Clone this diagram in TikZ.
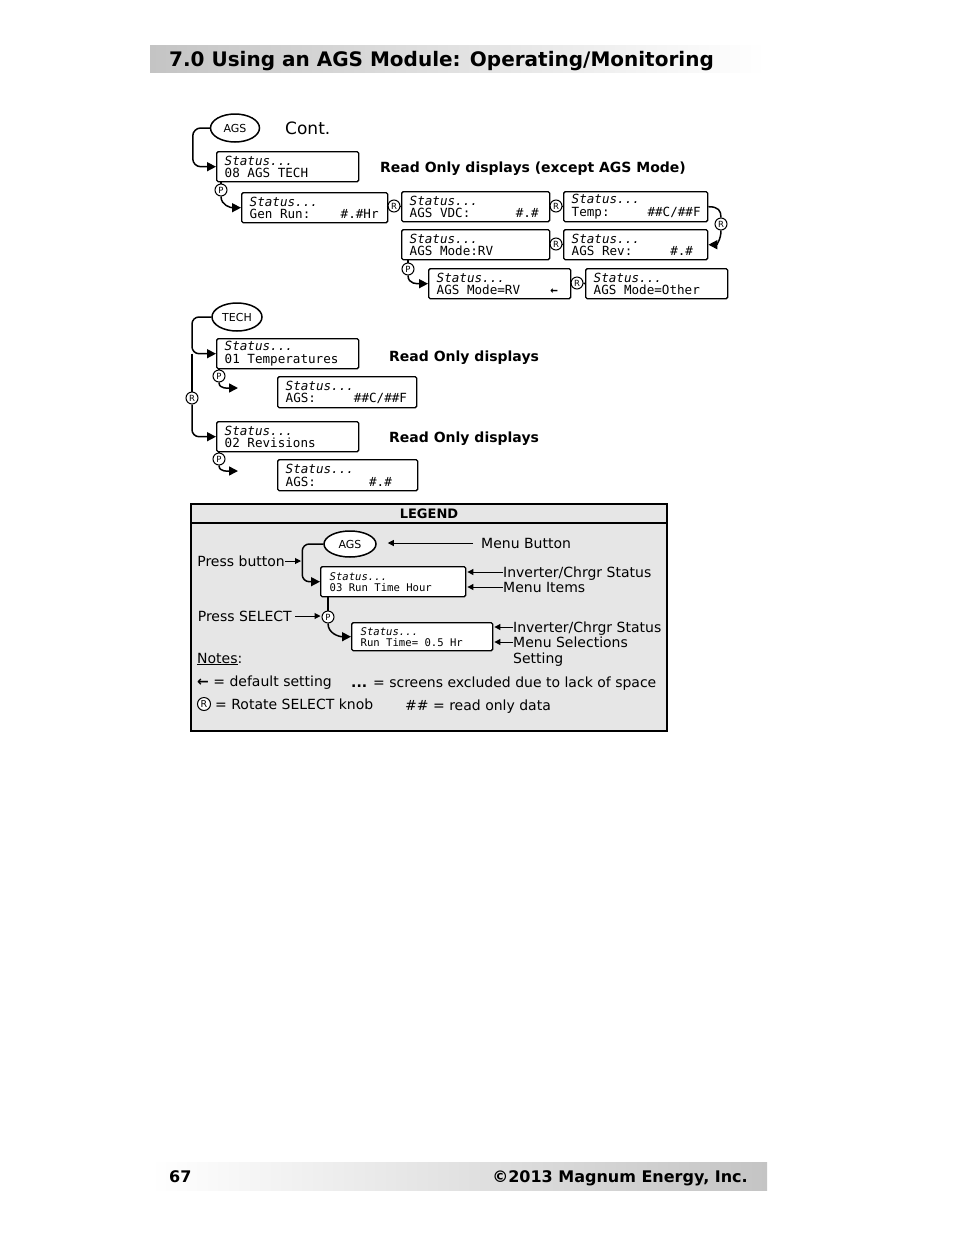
\documentclass[tikz,border=0pt]{standalone}
\usepackage{fontspec}
\setmainfont{DejaVu Sans}
\setmonofont{DejaVu Sans Mono}
\usetikzlibrary{shapes.geometric,arrows.meta}
\definecolor{legendgray}{HTML}{E6E6E6}
\definecolor{bargray}{HTML}{C4C4C4}
\newcommand\xs{\hspace*{0.6021em}}
\newcommand\mydisp[7]{%
  \node[disp, minimum width=#4pt, minimum height=#5pt, text width=\dimexpr#4pt-16pt\relax] (#1) at (#2,#3) {\textit{#6}\\#7};}
\newcommand\mysmalldisp[7]{%
  \node[disp, font=\ttfamily\fontsize{10.6}{11}\selectfont, minimum width=#4pt, minimum height=#5pt, text width=\dimexpr#4pt-18pt\relax, inner xsep=9pt] (#1) at (#2,#3) {\textit{#6}\\#7};}
\begin{document}
\begin{tikzpicture}[x=1pt,y=-1pt,
  disp/.style={draw, line width=1.4pt, rounded corners=1.5pt, fill=white, align=left,
    inner xsep=8pt, inner ysep=0pt, anchor=north west,
    font=\ttfamily\fontsize{12.6}{12.5}\selectfont},
  agsell/.style={ellipse, draw, line width=1.5pt, fill=white, inner sep=0pt,
    minimum width=49pt, minimum height=28pt, font=\fontsize{11}{11}\selectfont},
  rp/.style={circle, draw, line width=1pt, fill=white, inner sep=0pt, minimum size=12pt,
    font=\fontsize{8.5}{8.5}\selectfont},
  conn/.style={line width=1.5pt},
  arr/.style={conn, -{Triangle[length=9pt,width=9pt]}},
  larr/.style={line width=1pt, -{Triangle[length=6pt,width=6pt]}},
  lbl/.style={inner sep=0pt, anchor=base west, font=\fontsize{14}{16}\selectfont},
  rohead/.style={inner sep=0pt, anchor=base west, font=\bfseries\fontsize{14}{16}\selectfont}
]
\useasboundingbox (0,0) rectangle (954,1235);
\fill[white] (0,0) rectangle (954,1235);

% header bar
\shade[left color=bargray, right color=white] (150,45) rectangle (766,72);
\node[anchor=base west, inner sep=0pt, font=\bfseries\fontsize{20}{22}\selectfont] (title) at (169,66.5) {7.0 Using an AGS Module: Operating/Monitoring};

% footer bar
\shade[left color=white, right color=bargray] (150,1162) rectangle (767,1190);
\node[anchor=base west, inner sep=0pt, font=\bfseries\fontsize{16}{18}\selectfont] (pg) at (169,1182) {67};
\node[anchor=base east, inner sep=0pt, font=\bfseries\fontsize{16}{18}\selectfont] (copy) at (748,1182) {©2013 Magnum Energy, Inc.};

% ---------------- top section ----------------
\node[agsell] (ags1) at (235,128) {AGS};
\node[anchor=base west, inner sep=0pt, font=\fontsize{17}{17}\selectfont] (cont) at (285,134) {Cont.};
\mydisp{box1}{216}{151}{142}{30}{Status...}{08\xs AGS\xs TECH}
\draw[arr, rounded corners=8pt] (ags1.west) -- ++(-17,0) |- (box1.west);
\node[rohead] (ro1) at (380,172) {Read Only displays (except AGS Mode)};

\mydisp{gen}{241}{192}{146}{30}{Status...}{Gen\xs Run:\xs\xs\xs\xs\#.\#Hr}
\mydisp{vdc}{401}{191}{148}{30}{Status...}{AGS\xs VDC:\xs\xs\xs\xs\xs\xs\#.\#}
\mydisp{temp}{563}{191}{144}{30}{Status...}{Temp:\xs\xs\xs\xs\xs\#\#C/\#\#F}
\mydisp{mode}{401}{229}{148}{30}{Status...}{AGS\xs Mode:RV}
\mydisp{rev}{563}{229}{144}{30}{Status...}{AGS\xs Rev:\xs\xs\xs\xs\xs\#.\#}
\mydisp{moderv}{428}{268}{142}{30}{Status...}{AGS\xs Mode=RV\xs\xs\xs\xs\textbf{←}}
\mydisp{other}{585}{268}{142}{30}{Status...}{AGS\xs Mode=Other}

\node[rp] (p1) at (221,190) {P};
\draw[conn] (p1 |- box1.south) -- (p1.north);
\draw[arr] (p1.south) .. controls +(0,9) and +(-10,0) .. (gen.west);

\node[rp] (r1) at (394,206) {R};
\draw[conn] (gen.east) -- (r1.west);
\draw[conn] (r1.east) -- (vdc.west);
\node[rp] (r2) at (556,206) {R};
\draw[conn] (vdc.east) -- (r2.west);
\draw[conn] (r2.east) -- (temp.west);

\node[rp] (r3) at (721,224) {R};
\draw[conn] (temp.east) .. controls +(10,0) and +(0,-7) .. (r3.north);
\draw[arr] (r3.south) .. controls +(0,9) and +(8,0) .. (rev.east);

\node[rp] (r5) at (556,244) {R};
\draw[conn] (mode.east) -- (r5.west);
\draw[conn] (r5.east) -- (rev.west);

\node[rp] (p2) at (408,269) {P};
\draw[conn] (p2 |- mode.south) -- (p2.north);
\draw[arr] (p2.south) .. controls +(0,9) and +(-10,0) .. (moderv.west);

\node[rp] (r4) at (577,283) {R};
\draw[conn] (moderv.east) -- (r4.west);
\draw[conn] (r4.east) -- (other.west);

% ---------------- TECH section ----------------
\node[agsell, minimum width=50pt] (tech) at (237,317) {TECH};
\mydisp{t1}{216}{338}{142}{30}{Status...}{01\xs Temperatures}
\mydisp{ta}{277}{376}{139}{31}{Status...}{AGS:\xs\xs\xs\xs\xs\#\#C/\#\#F}
\mydisp{t2}{216}{421}{142}{30}{Status...}{02\xs Revisions}
\mydisp{tb}{277}{459}{140}{31}{Status...}{AGS:\xs\xs\xs\xs\xs\xs\xs\#.\#}
\node[rohead] (ro2) at (389,361) {Read Only displays};
\node[rohead] (ro3) at (389,442) {Read Only displays};

\node[rp] (rr) at (192,398) {R};
\coordinate (tv) at (rr |- tech.west);
\draw[arr, rounded corners=7pt] (tech.west) -- (tv) |- (t1.west);
\draw[conn] (tv |- t1.west) -- (rr.north);
\draw[arr, rounded corners=7pt] (rr.south) |- (t2.west);

\node[rp] (pt1) at (219,376) {P};
\coordinate (e1) at (238,388);
\draw[conn] (pt1 |- t1.south) -- (pt1.north);
\draw[arr] (pt1.south) .. controls +(0,7) and +(-9,0) .. (e1);

\node[rp] (pt2) at (219,459) {P};
\coordinate (e2) at (238,471);
\draw[conn] (pt2 |- t2.south) -- (pt2.north);
\draw[arr] (pt2.south) .. controls +(0,7) and +(-9,0) .. (e2);

% ---------------- legend ----------------
\draw[line width=1.5pt, fill=legendgray] (191,504) rectangle (667,731);
\draw[line width=1.5pt] (191,523) -- (667,523);
\node[inner sep=0pt, anchor=base, font=\bfseries\fontsize{13}{14}\selectfont] (lt) at (429,518) {LEGEND};

\node[agsell, minimum width=52pt, minimum height=26pt] (lags) at (350,544) {AGS};
\node[lbl] (mb) at (481,548) {Menu Button};
\draw[larr, shorten <=8pt, shorten >=11pt] ([yshift=5pt]mb.base west) -- ([yshift=5pt]mb.base west -| lags.east);

\mysmalldisp{l1}{320}{566}{145}{30}{Status...}{03\xs Run\xs Time\xs Hour}
\draw[arr, rounded corners=7pt] (lags.west) -- ++(-21,0) |- (l1.west);
\node[lbl, anchor=base east] (pb) at (285,566) {Press button};
\coordinate (pbt) at (301,561);
\draw[larr] ([yshift=5pt]pb.base east) -- (pbt);

\node[lbl] (ics1) at (503,577) {Inverter/Chrgr Status};
\node[lbl] (mi) at (503,592) {Menu Items};
\draw[larr, shorten >=1pt] ([yshift=5pt]ics1.base west) -- ([yshift=5pt]ics1.base west -| l1.east);
\draw[larr, shorten >=1pt] ([yshift=5pt]mi.base west) -- ([yshift=5pt]mi.base west -| l1.east);

\node[rp] (lp) at (328,617) {P};
\draw[conn] (lp |- l1.south) -- (lp.north);
\node[lbl, anchor=base east] (ps) at (292,621) {Press SELECT};
\draw[larr, shorten <=3pt, shorten >=1pt] ([yshift=5pt]ps.base east) -- ([yshift=5pt]ps.base east -| lp.west);

\mysmalldisp{l2}{351}{622}{141}{28}{Status...}{Run\xs Time=\xs 0.5\xs Hr}
\draw[arr] (lp.south) .. controls +(0,10) and +(-12,0) .. (l2.west);

\node[lbl] (ics2) at (513,632) {Inverter/Chrgr Status};
\node[lbl] (ms) at (513,647) {Menu Selections};
\node[lbl] (st) at (513,663) {Setting};
\draw[larr, shorten >=1pt] ([yshift=5pt]ics2.base west) -- ([yshift=5pt]ics2.base west -| l2.east);
\draw[larr, shorten >=1pt] ([yshift=5pt]ms.base west) -- ([yshift=5pt]ms.base west -| l2.east);

\node[lbl] (notes) at (197,663) {\underline{Notes}:};
\node[lbl] (n1) at (197,686) {\textbf{←} = default setting};
\node[lbl] (n2) at (351,687) {\textbf{...} = screens excluded due to lack of space};
\node[rp, minimum size=13pt, font=\fontsize{9.5}{9.5}\selectfont] (nr) at (204,704) {R};
\node[lbl] (n3) at (215,709) {= Rotate SELECT knob};
\node[lbl] (n4) at (405,710) {\#\# = read only data};
\end{tikzpicture}
\end{document}
